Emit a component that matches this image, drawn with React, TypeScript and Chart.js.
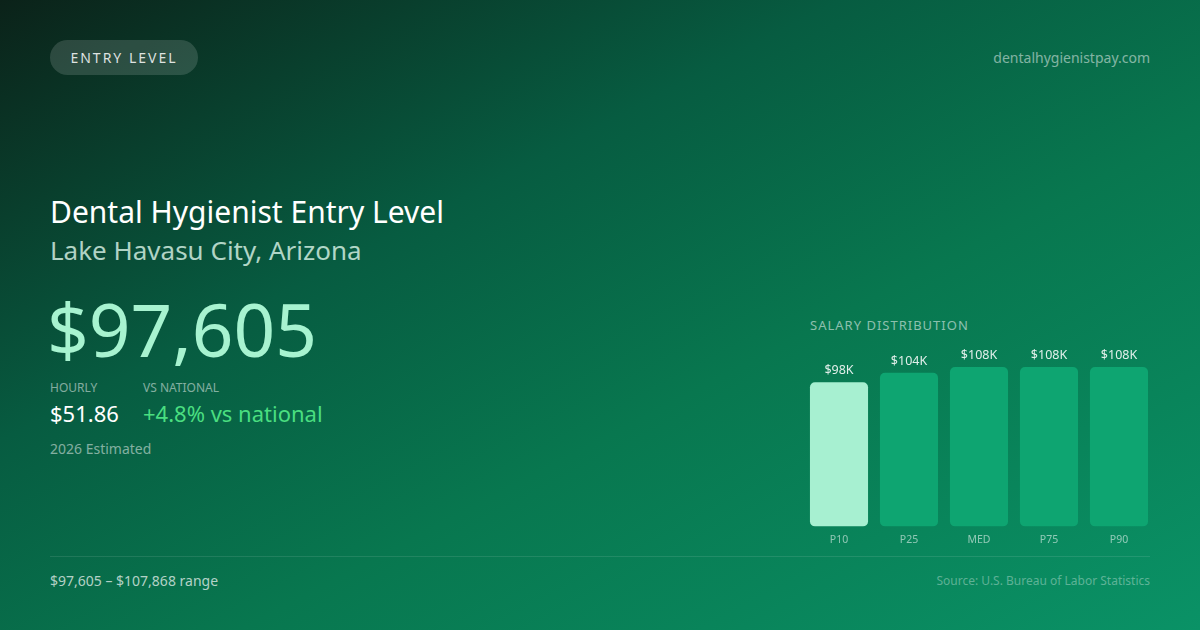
import { useEffect, useRef } from 'react';
import { Chart, ChartConfiguration, registerables } from 'chart.js';

Chart.register(...registerables);

// percentile labels and annual salary values
const percentiles: string[] = ['P10', 'P25', 'MED', 'P75', 'P90'];
const salaries: number[] = [97605, 103900, 107868, 107868, 107868];
const barColors: string[] = ['#a7f0d1', '#0ea571', '#0ea571', '#0ea571', '#0ea571'];

const FONT = '"Noto Sans", "Open Sans", sans-serif';

// draws "$98K" above each bar
const valueLabels = {
    id: 'valueLabels',
    afterDatasetsDraw(chart: Chart) {
        const ctx = chart.ctx;
        const meta = chart.getDatasetMeta(0);
        ctx.save();
        ctx.font = `12.5px ${FONT}`;
        ctx.fillStyle = 'rgba(255,255,255,0.88)';
        ctx.textAlign = 'center';
        ctx.textBaseline = 'alphabetic';
        meta.data.forEach((bar: any, i: number) => {
            const v = salaries[i];
            ctx.fillText('$' + Math.round(v / 1000) + 'K', bar.x, bar.y - 8);
        });
        ctx.restore();
    },
};

function SalaryBars() {
    const canvasRef = useRef<HTMLCanvasElement | null>(null);
    const chartRef = useRef<Chart | null>(null);

    useEffect(() => {
        if (!canvasRef.current) return;
        const config: ChartConfiguration = {
            type: 'bar',
            data: {
                labels: percentiles,
                datasets: [{
                    data: salaries,
                    backgroundColor: barColors,
                    borderRadius: 5,
                    borderSkipped: false,
                    barPercentage: 0.83,
                    categoryPercentage: 1,
                }],
            },
            options: {
                animation: false,
                responsive: true,
                maintainAspectRatio: false,
                layout: { padding: { top: 27 } },
                plugins: {
                    legend: { display: false },
                    tooltip: { enabled: false },
                },
                scales: {
                    x: {
                        grid: { display: false, drawTicks: false },
                        border: { display: false },
                        ticks: {
                            color: 'rgba(255,255,255,0.55)',
                            font: { family: FONT, size: 10.5 },
                            padding: 7,
                        },
                    },
                    y: {
                        display: false,
                        min: 0,
                        max: 107868,
                    },
                },
            },
            plugins: [valueLabels],
        };
        chartRef.current = new Chart(canvasRef.current, config);
        return () => {
            if (chartRef.current) {
                chartRef.current.destroy();
                chartRef.current = null;
            }
        };
    }, []);

    return (
        <div style={{ position: 'absolute', left: 804, top: 340, width: 350, height: 213 }}>
            <canvas ref={canvasRef}></canvas>
        </div>
    );
}

const abs = (left: number, top: number, extra: any = {}) => ({
    position: 'absolute' as const, left, top, lineHeight: 1, whiteSpace: 'nowrap' as const, ...extra,
});

export default function App() {
    return (
        <div style={{
            position: 'fixed', left: 0, top: 0, width: 1200, height: 630, overflow: 'hidden',
            background: 'linear-gradient(to bottom right, #0b2219 0%, #075c41 35%, #08774f 60%, #0a9266 100%)',
            fontFamily: FONT, color: '#fff',
        }}>
            <div style={abs(50, 40, {
                width: 148, height: 35, borderRadius: 18, background: 'rgba(255,255,255,0.14)',
                display: 'flex', alignItems: 'center', justifyContent: 'center',
                fontSize: 14, letterSpacing: 2, color: 'rgba(255,255,255,0.85)',
            })}>ENTRY LEVEL</div>
            <div style={abs(0, 50.5, { right: 50, left: 'auto', fontSize: 14, color: 'rgba(255,255,255,0.5)' })}>dentalhygienistpay.com</div>

            <div style={abs(50, 197, { fontSize: 30 })}>Dental Hygienist Entry Level</div>
            <div style={abs(50, 237, { fontSize: 26, color: 'rgba(225,250,238,0.78)' })}>Lake Havasu City, Arizona</div>
            <div style={abs(47, 291.5, { fontSize: 73, color: '#a7f3d0' })}>$97,605</div>

            <div style={abs(50, 381.5, { fontSize: 12, color: 'rgba(255,255,255,0.5)' })}>HOURLY</div>
            <div style={abs(143, 381.5, { fontSize: 12, color: 'rgba(255,255,255,0.5)' })}>VS NATIONAL</div>
            <div style={abs(50, 401.5, { fontSize: 22 })}>$51.86</div>
            <div style={abs(143, 401.5, { fontSize: 22, color: '#4ade80' })}>+4.8% vs national</div>
            <div style={abs(50, 441.5, { fontSize: 14, color: 'rgba(255,255,255,0.5)' })}>2026 Estimated</div>

            <div style={abs(810, 319, { fontSize: 13, letterSpacing: 1, color: 'rgba(255,255,255,0.55)' })}>SALARY DISTRIBUTION</div>
            <SalaryBars />

            <div style={{ position: 'absolute', left: 50, top: 556, width: 1100, height: 1, background: 'rgba(255,255,255,0.1)' }}></div>
            <div style={abs(50, 573.5, { fontSize: 14, color: 'rgba(255,255,255,0.7)' })}>$97,605 – $107,868 range</div>
            <div style={abs(0, 574.5, { right: 50, left: 'auto', fontSize: 12, color: 'rgba(255,255,255,0.35)' })}>Source: U.S. Bureau of Labor Statistics</div>
        </div>
    );
}
